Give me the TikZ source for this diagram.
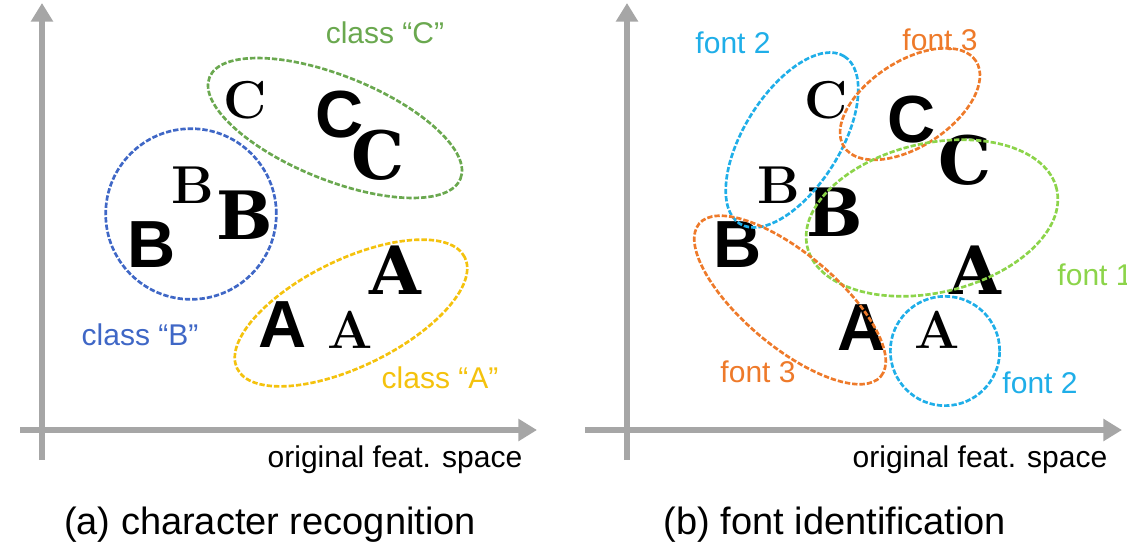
\documentclass[tikz,border=0pt]{standalone}
\usepackage{fontspec}
\setsansfont{Liberation Sans}
\newfontfamily\serifbold{DejaVu Serif}
\usetikzlibrary{shapes.geometric,arrows.meta}
\definecolor{cgreen}{HTML}{6AA84F}
\definecolor{cblue}{HTML}{3F67C6}
\definecolor{cyellow}{HTML}{F4C20D}
\definecolor{lgreen}{HTML}{8CD44A}
\definecolor{lblue}{HTML}{1FAEE8}
\definecolor{corange}{HTML}{EE7A2A}
\tikzset{
 axis/.style={draw=gray!70,line width=4.5pt,-{Triangle[length=14pt,width=16pt]}},
 grp/.style={ellipse,draw,dashed,line width=2pt,dash pattern=on 4pt off 1.5pt,inner sep=0pt},
 lsans/.style={font=\sffamily\bfseries\fontsize{50}{50}\selectfont},
 lserif/.style={font=\serifbold\bfseries\fontsize{50}{50}\selectfont},
 ldeco/.style={font=\rmfamily\bfseries\fontsize{40}{40}\selectfont},
 lab/.style={font=\sffamily\fontsize{22.5}{22.5}\selectfont},
 captxt/.style={font=\sffamily\fontsize{28.5}{28.5}\selectfont}
}
\begin{document}
\begin{tikzpicture}[x=0.75pt,y=-0.75pt]
\useasboundingbox (0,0) rectangle (1127,550);
\coordinate (ly0) at (42,460); \coordinate (ly1) at (42,3);
\coordinate (lx0) at (20,430); \coordinate (lx1) at (537,430);
\draw[axis] (ly0) -- (ly1);
\draw[axis] (lx0) -- (lx1);
\coordinate (ry0) at (627,460); \coordinate (ry1) at (627,3);
\coordinate (rx0) at (585,430); \coordinate (rx1) at (1122,430);
\draw[axis] (ry0) -- (ry1);
\draw[axis] (rx0) -- (rx1);
\node[ldeco] (lc1) at (245,100) {C};
\node[lsans] (lc2) at (340,115) {C};
\node[lserif] (lc3) at (378,155) {C};
\node[ldeco] (lb1) at (193,185) {B};
\node[lserif] (lb2) at (245,215) {B};
\node[lsans] (lb3) at (152,245) {B};
\node[lsans] (la1) at (283,325) {A};
\node[ldeco] (la2) at (350,330) {A};
\node[lserif] (la3) at (395,270) {A};
\node[grp,draw=cgreen,minimum width=203pt,minimum height=78pt,rotate=-22] (eC) at (335,128) {};
\node[grp,draw=cblue,circle,minimum size=128pt] (eB) at (191,214) {};
\node[grp,draw=cyellow,minimum width=190pt,minimum height=80pt,rotate=26] (eA) at (351,313) {};
\node[lab,text=cgreen] (tC) at (385,33) {class “C”};
\node[lab,text=cblue] (tB) at (140,335) {class “B”};
\node[lab,text=cyellow] (tA) at (440,378) {class “A”};
\node[lab] (fl) at (395,460) {original feat. space};
\node[captxt] (capa) at (270,525) {(a) character recognition};
\node[ldeco] (rc1) at (826,100) {C};
\node[lsans] (rc2) at (912,120) {C};
\node[lserif] (rc3) at (965,160) {C};
\node[ldeco] (rb1) at (779,185) {B};
\node[lserif] (rb2) at (835,212) {B};
\node[lsans] (rb3) at (738,245) {B};
\node[lserif] (ra1) at (975,270) {A};
\node[lsans] (ra2) at (862,328) {A};
\node[ldeco] (ra3) at (937,330) {A};
\node[grp,draw=lblue,minimum width=148pt,minimum height=72pt,rotate=58] (f2a) at (792,140) {};
\node[grp,draw=corange,minimum width=118pt,minimum height=64pt,rotate=33] (f3a) at (910,104) {};
\node[grp,draw=lgreen,minimum width=192pt,minimum height=112pt,rotate=13] (f1) at (932,218) {};
\node[grp,draw=corange,minimum width=178pt,minimum height=70pt,rotate=-40] (f3b) at (790,300) {};
\node[grp,draw=lblue,circle,minimum size=82pt] (f2b) at (945,351) {};
\node[lab,text=lblue] (t2a) at (733,43) {font 2};
\node[lab,text=corange] (t3a) at (940,40) {font 3};
\node[lab,text=lgreen] (t1) at (1095,275) {font 1};
\node[lab,text=corange] (t3b) at (758,372) {font 3};
\node[lab,text=lblue] (t2b) at (1040,383) {font 2};
\node[lab] (fr) at (980,460) {original feat. space};
\node[captxt] (capb) at (835,525) {(b) font identification};
\end{tikzpicture}
\end{document}
